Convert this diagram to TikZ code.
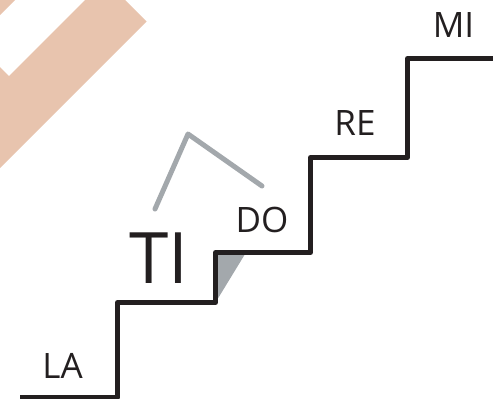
\documentclass[tikz,border=0pt]{standalone}
\usepackage{fontspec}
\setmainfont{Open Sans}
\definecolor{ink}{HTML}{231F20}
\definecolor{salmon}{HTML}{E8C4AE}
\definecolor{roof}{HTML}{A3A8AC}
\begin{document}
\begin{tikzpicture}[x=1pt,y=-1pt,
  lbl/.style={anchor=base,inner sep=0pt,text=ink,font=\fontsize{35}{40}\selectfont},
  biglbl/.style={lbl,font=\fontsize{71}{80}\selectfont},
  stair/.style={draw=ink,line width=5pt,line join=round},
  roofline/.style={draw=roof,line width=5pt,line cap=round,line join=round}]
\useasboundingbox (0,0) rectangle (493,399);
% salmon band
\fill[salmon] (0,168) -- (0,67) -- (9,76) -- (85,0) -- (125,0) -- (146.5,21.5) -- cycle;
\fill[salmon] (0,0) -- (15,0) -- (0,15) -- cycle;
% shadow triangle
\fill[roof] (215.5,252.5) -- (246,252.5) -- (215.5,302.5) -- cycle;
% roof
\coordinate (r1) at (155,209);
\coordinate (r2) at (188,134);
\coordinate (r3) at (262,186);
\draw[roofline] (r1) -- (r2) -- (r3);
% stairs
\coordinate (s0) at (20,397);
\coordinate (s1) at (117.5,397);
\coordinate (s2) at (117.5,302.5);
\coordinate (s3) at (215.5,302.5);
\coordinate (s4) at (215.5,252.5);
\coordinate (s5) at (310.5,252.5);
\coordinate (s6) at (310.5,157.5);
\coordinate (s7) at (407.5,157.5);
\coordinate (s8) at (407.5,58.5);
\coordinate (s9) at (493,58.5);
\draw[stair] (s0) -- (s1) -- (s2) -- (s3) -- (s4) -- (s5) -- (s6) -- (s7) -- (s8) -- (s9);
% labels
\node[lbl] (la) at (62.5,378) {LA};
\node[biglbl] (ti) at (159,283) {TI};
\node[lbl] (do) at (262,232.5) {DO};
\node[lbl] (re) at (355,135) {RE};
\node[lbl] (mi) at (453.5,37) {MI};
\end{tikzpicture}
\end{document}
